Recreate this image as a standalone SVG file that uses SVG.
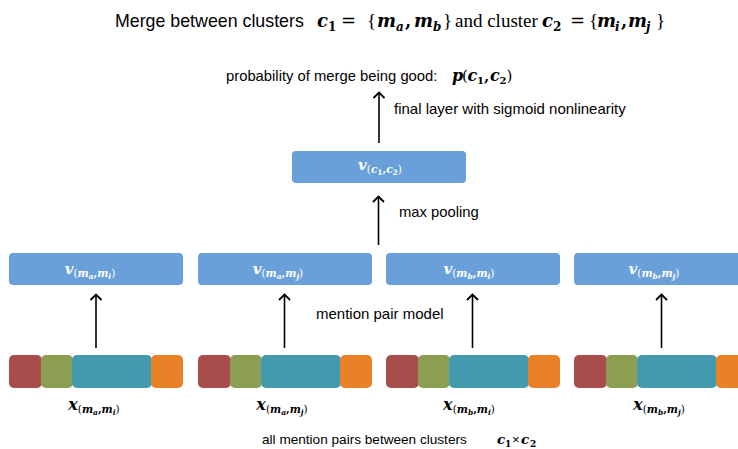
<svg xmlns="http://www.w3.org/2000/svg" width="738" height="449" viewBox="0 0 738 449">
  <style>
    .sans { font-family: "Liberation Sans", Arial, sans-serif; fill: #000; }
    .ser { font-family: "Liberation Serif", "Times New Roman", serif; fill: #000; }
    .mth { font-family: "DejaVu Serif", "Liberation Serif", serif; fill: #000; }
    .bi { font-weight: bold; font-style: italic; }
    .b { font-weight: bold; }
    .box { fill: #6aa0da; }
    .lbl { fill: #fff; }
    .red { fill: #a84d4b; }
    .grn { fill: #8b9e52; }
    .tea { fill: #4399ad; }
    .org { fill: #e98227; }
    .conn { stroke: #000; stroke-width: 1.6; fill: none; marker-end: url(#head); }
  </style>
  <defs>
    <marker id="head" markerUnits="userSpaceOnUse" markerWidth="12" markerHeight="14" viewBox="-9 -7 12 14" refX="0" refY="0" orient="auto">
      <path d="M-6,-5.5 L-0.6,0 L-6,5.5" stroke="#000" stroke-width="1.8" fill="none"/>
    </marker>
    <!-- feature vector: four coloured segments -->
    <g id="feat">
      <rect class="red" x="0" y="0" width="33" height="33" rx="5"/>
      <rect class="grn" x="32" y="0" width="32" height="33" rx="5"/>
      <rect class="tea" x="63" y="0" width="80" height="33" rx="5"/>
      <rect class="org" x="142" y="0" width="32" height="33" rx="5"/>
    </g>
  </defs>

  <!-- title -->
  <g id="title">
    <text class="sans" x="115" y="27" font-size="17.8">Merge between clusters</text>
    <text class="mth bi" x="317" y="27" font-size="18">c</text>
    <text class="mth b" x="328" y="31" font-size="12">1</text>
    <text class="mth" x="341" y="27" font-size="18">=</text>
    <text class="ser" x="367" y="27" font-size="19">{</text>
    <text class="mth bi" x="377" y="27" font-size="18">m</text>
    <text class="mth bi" x="396" y="31" font-size="12">a</text>
    <text class="mth b" x="405" y="27" font-size="18">,</text>
    <text class="mth bi" x="414" y="27" font-size="18">m</text>
    <text class="mth bi" x="433" y="31" font-size="12">b</text>
    <text class="ser" x="443" y="27" font-size="19">}</text>
    <text class="ser" x="455" y="27" font-size="19">and cluster</text>
    <text class="mth bi" x="542" y="27" font-size="18">c</text>
    <text class="mth b" x="553" y="31" font-size="12">2</text>
    <text class="mth" x="570" y="27" font-size="18">=</text>
    <text class="ser" x="589" y="27" font-size="19">{</text>
    <text class="mth bi" x="597" y="27" font-size="18">m</text>
    <text class="mth bi" x="615" y="31" font-size="12">i</text>
    <text class="mth b" x="621" y="27" font-size="18">,</text>
    <text class="mth bi" x="628" y="27" font-size="18">m</text>
    <text class="mth bi" x="646" y="31" font-size="12">j</text>
    <text class="ser" x="656" y="27" font-size="19">}</text>
  </g>

  <!-- output probability -->
  <g id="output">
    <text class="sans" x="226" y="81" font-size="14.8">probability of merge being good:</text>
    <text class="mth bi" x="452" y="81" font-size="16">p</text>
    <text class="mth" x="462" y="81" font-size="15">(</text>
    <text class="mth bi" x="467.5" y="81" font-size="16">c</text>
    <text class="mth b" x="477" y="84" font-size="10">1</text>
    <text class="mth b" x="484" y="81" font-size="15">,</text>
    <text class="mth bi" x="490" y="81" font-size="16">c</text>
    <text class="mth b" x="499.5" y="84" font-size="10">2</text>
    <text class="mth" x="506.5" y="81" font-size="15">)</text>
  </g>

  <!-- cluster pair representation -->
  <g id="v-c1c2">
    <rect class="box" x="292" y="151" width="174" height="32" rx="4"/>
    <text class="mth lbl" x="380" y="170" font-size="15" text-anchor="middle"><tspan class="bi">v</tspan><tspan font-size="10.5" dy="3">(</tspan><tspan class="bi" font-size="10.5">c</tspan><tspan class="b" font-size="7.5" dy="2">1</tspan><tspan class="b" font-size="10.5" dy="-2">,</tspan><tspan class="bi" font-size="10.5">c</tspan><tspan class="b" font-size="7.5" dy="2">2</tspan><tspan font-size="10.5" dy="-2">)</tspan></text>
  </g>

  <!-- mention pair representations -->
  <g id="v-ma-mi">
    <rect class="box" x="9" y="253" width="174" height="32" rx="4"/>
    <text class="mth lbl" x="90" y="274" font-size="15" text-anchor="middle"><tspan class="bi">v</tspan><tspan font-size="10.5" dy="3">(</tspan><tspan class="bi" font-size="10.5">m</tspan><tspan class="bi" font-size="7.5" dy="2">a</tspan><tspan class="b" font-size="10.5" dy="-2">,</tspan><tspan class="bi" font-size="10.5">m</tspan><tspan class="bi" font-size="7.5" dy="2">i</tspan><tspan font-size="10.5" dy="-2">)</tspan></text>
  </g>
  <g id="v-ma-mj">
    <rect class="box" x="198" y="253" width="174" height="32" rx="4"/>
    <text class="mth lbl" x="278" y="274" font-size="15" text-anchor="middle"><tspan class="bi">v</tspan><tspan font-size="10.5" dy="3">(</tspan><tspan class="bi" font-size="10.5">m</tspan><tspan class="bi" font-size="7.5" dy="2">a</tspan><tspan class="b" font-size="10.5" dy="-2">,</tspan><tspan class="bi" font-size="10.5">m</tspan><tspan class="bi" font-size="7.5" dy="2">j</tspan><tspan font-size="10.5" dy="-2">)</tspan></text>
  </g>
  <g id="v-mb-mi">
    <rect class="box" x="386" y="253" width="174" height="32" rx="4"/>
    <text class="mth lbl" x="469" y="274" font-size="15" text-anchor="middle"><tspan class="bi">v</tspan><tspan font-size="10.5" dy="3">(</tspan><tspan class="bi" font-size="10.5">m</tspan><tspan class="bi" font-size="7.5" dy="2">b</tspan><tspan class="b" font-size="10.5" dy="-2">,</tspan><tspan class="bi" font-size="10.5">m</tspan><tspan class="bi" font-size="7.5" dy="2">i</tspan><tspan font-size="10.5" dy="-2">)</tspan></text>
  </g>
  <g id="v-mb-mj">
    <rect class="box" x="574" y="253" width="174" height="32" rx="4"/>
    <text class="mth lbl" x="654" y="274" font-size="15" text-anchor="middle"><tspan class="bi">v</tspan><tspan font-size="10.5" dy="3">(</tspan><tspan class="bi" font-size="10.5">m</tspan><tspan class="bi" font-size="7.5" dy="2">b</tspan><tspan class="b" font-size="10.5" dy="-2">,</tspan><tspan class="bi" font-size="10.5">m</tspan><tspan class="bi" font-size="7.5" dy="2">j</tspan><tspan font-size="10.5" dy="-2">)</tspan></text>
  </g>

  <!-- mention pair feature vectors -->
  <g id="x-ma-mi">
    <use href="#feat" x="9" y="355"/>
    <text class="mth" x="94" y="410" font-size="16" text-anchor="middle"><tspan class="bi">x</tspan><tspan font-size="10.5" dy="3">(</tspan><tspan class="bi" font-size="10.5">m</tspan><tspan class="bi" font-size="7.5" dy="2">a</tspan><tspan class="b" font-size="10.5" dy="-2">,</tspan><tspan class="bi" font-size="10.5">m</tspan><tspan class="bi" font-size="7.5" dy="2">i</tspan><tspan font-size="10.5" dy="-2">)</tspan></text>
  </g>
  <g id="x-ma-mj">
    <use href="#feat" x="198" y="355"/>
    <text class="mth" x="282" y="410" font-size="16" text-anchor="middle"><tspan class="bi">x</tspan><tspan font-size="10.5" dy="3">(</tspan><tspan class="bi" font-size="10.5">m</tspan><tspan class="bi" font-size="7.5" dy="2">a</tspan><tspan class="b" font-size="10.5" dy="-2">,</tspan><tspan class="bi" font-size="10.5">m</tspan><tspan class="bi" font-size="7.5" dy="2">j</tspan><tspan font-size="10.5" dy="-2">)</tspan></text>
  </g>
  <g id="x-mb-mi">
    <use href="#feat" x="386" y="355"/>
    <text class="mth" x="469" y="410" font-size="16" text-anchor="middle"><tspan class="bi">x</tspan><tspan font-size="10.5" dy="3">(</tspan><tspan class="bi" font-size="10.5">m</tspan><tspan class="bi" font-size="7.5" dy="2">b</tspan><tspan class="b" font-size="10.5" dy="-2">,</tspan><tspan class="bi" font-size="10.5">m</tspan><tspan class="bi" font-size="7.5" dy="2">i</tspan><tspan font-size="10.5" dy="-2">)</tspan></text>
  </g>
  <g id="x-mb-mj">
    <use href="#feat" x="574" y="355"/>
    <text class="mth" x="659" y="410" font-size="16" text-anchor="middle"><tspan class="bi">x</tspan><tspan font-size="10.5" dy="3">(</tspan><tspan class="bi" font-size="10.5">m</tspan><tspan class="bi" font-size="7.5" dy="2">b</tspan><tspan class="b" font-size="10.5" dy="-2">,</tspan><tspan class="bi" font-size="10.5">m</tspan><tspan class="bi" font-size="7.5" dy="2">j</tspan><tspan font-size="10.5" dy="-2">)</tspan></text>
  </g>

  <!-- connectors -->
  <g id="connectors">
    <line class="conn" x1="96" y1="348" x2="96" y2="294"/>
    <line class="conn" x1="284.5" y1="348" x2="284.5" y2="294"/>
    <line class="conn" x1="472.5" y1="348" x2="472.5" y2="294"/>
    <line class="conn" x1="661.5" y1="348" x2="661.5" y2="294"/>
    <line class="conn" x1="378.5" y1="245" x2="378.5" y2="196"/>
    <line class="conn" x1="379" y1="143" x2="379" y2="92"/>
  </g>

  <!-- connector labels -->
  <g id="edge-labels">
    <text class="sans" x="394" y="114" font-size="15">final layer with sigmoid nonlinearity</text>
    <text class="sans" x="399" y="217" font-size="14.8">max pooling</text>
    <text class="sans" x="316" y="319" font-size="15">mention pair model</text>
  </g>

  <!-- footer -->
  <g id="footer">
    <text class="sans" x="262" y="444" font-size="13.6">all mention pairs between clusters</text>
    <text class="mth bi" x="497" y="444" font-size="13.5">c</text>
    <text class="mth b" x="505" y="447" font-size="9">1</text>
    <text class="sans" x="512" y="444" font-size="13">×</text>
    <text class="mth bi" x="521" y="444" font-size="13.5">c</text>
    <text class="mth b" x="530" y="447" font-size="9">2</text>
  </g>
</svg>
